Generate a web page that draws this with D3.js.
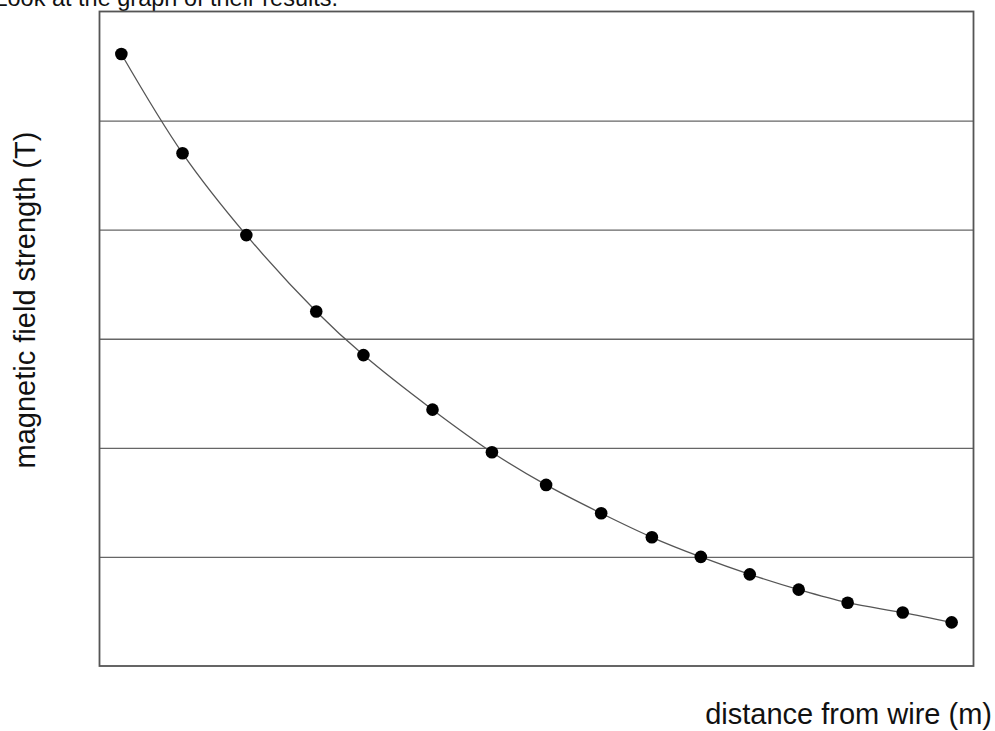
<!DOCTYPE html>
<html>
<head>
<meta charset="utf-8">
<script src="https://cdn.jsdelivr.net/npm/d3@7"></script>
<style>
  html, body { margin: 0; padding: 0; background: #fff; }
  svg { display: block; font-family: "Liberation Sans", Arial, sans-serif; }
</style>
</head>
<body>
<svg id="chart" width="995" height="731"></svg>
<script>
const distance = [2.5, 9.5, 16.8, 24.8, 30.2, 38.1, 44.9, 51.1, 57.4, 63.2, 68.8, 74.4, 80.0, 85.6, 91.9, 97.5];
const fieldStrength = [5.61, 4.70, 3.95, 3.25, 2.85, 2.35, 1.96, 1.66, 1.40, 1.18, 1.00, 0.84, 0.70, 0.58, 0.49, 0.40];
const gridValues = [1, 2, 3, 4, 5];
const xDomain = [0, 100];
const yDomain = [0, 6];

(function () {
const svg = d3.select("#chart");
const mLeft = 99.5, mRight = 973.5, mTop = 11.5, mBottom = 666;
const x = d3.scaleLinear().domain(xDomain).range([mLeft, mRight]);
const y = d3.scaleLinear().domain(yDomain).range([mBottom, mTop]);

svg.append("text")
  .attr("x", 338).attr("y", 6)
  .attr("text-anchor", "end")
  .attr("font-size", 23.5)
  .attr("fill", "#111")
  .text("Look at the graph of their results.");

const yAxis = d3.axisLeft(y).tickValues(gridValues).tickSize(-(mRight - mLeft)).tickFormat("");
const g = svg.append("g").attr("transform", `translate(${mLeft},0)`).call(yAxis);
g.select(".domain").remove();
g.selectAll(".tick line").attr("stroke", "#666").attr("stroke-width", 1.3);

svg.append("rect")
  .attr("x", mLeft).attr("y", mTop)
  .attr("width", mRight - mLeft).attr("height", mBottom - mTop)
  .attr("fill", "none").attr("stroke", "#555").attr("stroke-width", 1.8);

const data = distance.map((d, i) => ({ x: d, y: fieldStrength[i] }));

const line = d3.line().x(d => x(d.x)).y(d => y(d.y)).curve(d3.curveCatmullRom.alpha(0.5));
svg.append("path").datum(data)
  .attr("d", line)
  .attr("fill", "none").attr("stroke", "#555").attr("stroke-width", 1.3);

svg.selectAll("circle.pt").data(data).enter().append("circle")
  .attr("class", "pt")
  .attr("cx", d => x(d.x)).attr("cy", d => y(d.y))
  .attr("r", 6.3).attr("fill", "#000");

svg.append("text")
  .attr("transform", "translate(35,300) rotate(-90)")
  .attr("text-anchor", "middle")
  .attr("font-size", 29)
  .attr("fill", "#111")
  .text("magnetic field strength (T)");

svg.append("text")
  .attr("x", 992).attr("y", 724)
  .attr("text-anchor", "end")
  .attr("font-size", 29)
  .attr("fill", "#111")
  .text("distance from wire (m)");
})();
</script>
</body>
</html>
